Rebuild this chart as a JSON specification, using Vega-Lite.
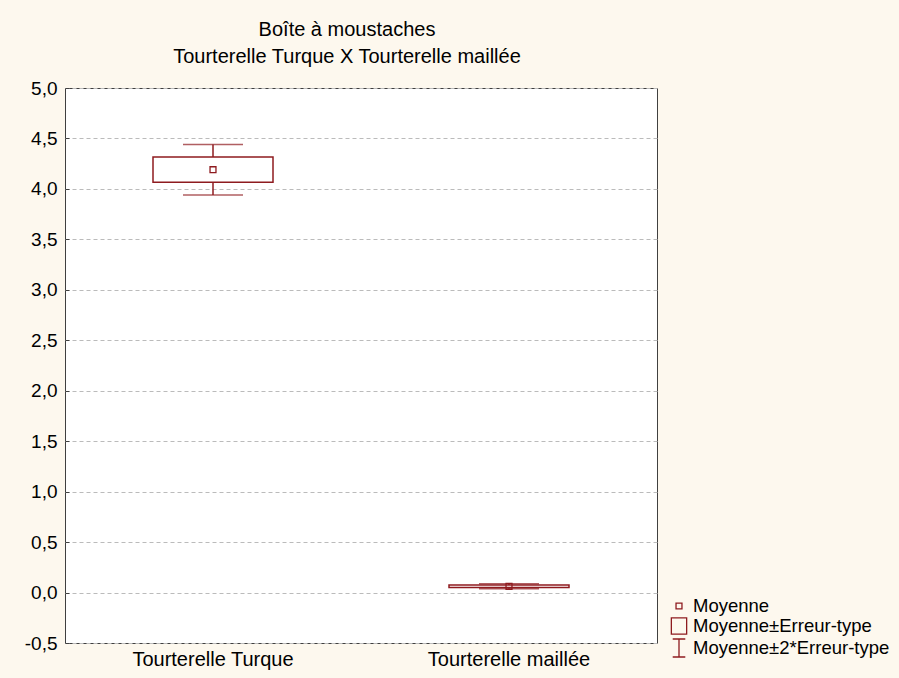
{
  "$schema": "https://vega.github.io/schema/vega-lite/v6.json",
  "width": 592,
  "height": 555,
  "autosize": {"type": "none"},
  "padding": {"left": 65, "top": 88, "right": 242, "bottom": 35},
  "background": "#FDF8EE",
  "title": {
    "text": ["Boîte à moustaches", "Tourterelle Turque X Tourterelle maillée"],
    "font": "Liberation Sans",
    "fontSize": 20,
    "fontWeight": "normal",
    "color": "#000000",
    "lineHeight": 27,
    "offset": 12,
    "dx": -14
  },
  "config": {
    "view": {"stroke": "#404040", "strokeWidth": 1, "fill": "#FFFFFF"},
    "axis": {"labelFont": "Liberation Sans", "labelFontSize": 19, "labelColor": "#000000", "domain": false, "ticks": false},
    "legend": {"labelFont": "Liberation Sans", "labelFontSize": 18.5, "labelColor": "#000000"}
  },
  "data": {
    "values": [
      {"cat": "Tourterelle Turque", "mean": 4.19, "lo": 4.065, "hi": 4.315, "lo2": 3.94, "hi2": 4.44, "serie": "Moyenne"},
      {"cat": "Tourterelle maillée", "mean": 0.062, "lo": 0.05, "hi": 0.074, "lo2": 0.037, "hi2": 0.087, "serie": "Moyenne"}
    ]
  },
  "encoding": {
    "x": {
      "field": "cat", "type": "nominal", "sort": null,
      "scale": {"paddingInner": 0, "paddingOuter": 0},
      "axis": {"title": null, "labelAngle": 0, "labelPadding": 6, "labelFontSize": 20, "grid": false}
    }
  },
  "layer": [
    {
      "mark": {"type": "rule", "color": "#8E1B1F", "strokeWidth": 1.5},
      "encoding": {
        "y": {
          "field": "hi", "type": "quantitative",
          "scale": {"domain": [-0.5, 5.0], "nice": false, "zero": false},
          "axis": {
            "title": null, "values": [-0.5, 0, 0.5, 1, 1.5, 2, 2.5, 3, 3.5, 4, 4.5, 5],
            "labelExpr": "(datum.value < 0 ? '-' : '') + replace(format(abs(datum.value), '.1f'), '.', ',')",
            "ticks": true, "tickSize": -4, "tickColor": "#404040", "tickWidth": 1,
            "labelPadding": 12,
            "grid": true, "gridColor": "#BBBBBB", "gridDash": [4, 3], "gridWidth": 1
          }
        },
        "y2": {"field": "hi2"}
      }
    },
    {
      "mark": {"type": "rule", "color": "#8E1B1F", "strokeWidth": 1.5},
      "encoding": {"y": {"field": "lo2", "type": "quantitative"}, "y2": {"field": "lo"}}
    },
    {
      "mark": {"type": "tick", "orient": "horizontal", "color": "#8E1B1F", "size": 60, "thickness": 1.5},
      "encoding": {"y": {"field": "hi2", "type": "quantitative"}}
    },
    {
      "mark": {"type": "tick", "orient": "horizontal", "color": "#8E1B1F", "size": 60, "thickness": 1.5},
      "encoding": {"y": {"field": "lo2", "type": "quantitative"}}
    },
    {
      "mark": {"type": "bar", "fill": "#FFFFFF", "fillOpacity": 0, "stroke": "#8E1B1F", "strokeWidth": 1.5, "size": 120},
      "encoding": {"y": {"field": "lo", "type": "quantitative"}, "y2": {"field": "hi"}}
    },
    {
      "mark": {"type": "point", "filled": false, "color": "#8E1B1F", "strokeWidth": 1.3, "size": 324, "opacity": 1},
      "encoding": {
        "y": {"field": "mean", "type": "quantitative"},
        "shape": {
          "field": "serie", "type": "nominal",
          "scale": {
            "domain": ["Moyenne", "Moyenne±Erreur-type", "Moyenne±2*Erreur-type"],
            "range": [
              "M-0.33,-0.33L0.33,-0.33L0.33,0.33L-0.33,0.33Z",
              "M-0.85,-0.9L0.85,-0.9L0.85,0.9L-0.85,0.9Z",
              "M-0.7,-1L0.7,-1M0,-1L0,1M-0.7,1L0.7,1"
            ]
          },
          "legend": {
            "title": null,
            "orient": "none",
            "legendX": 604,
            "legendY": 508,
            "rowPadding": -1,
            "labelOffset": 4,
            "labelLimit": 0,
            "symbolSize": 324,
            "symbolStrokeColor": "#8E1B1F",
            "symbolStrokeWidth": 1.3,
            "symbolFillColor": "transparent",
            "symbolOpacity": 1
          }
        }
      }
    }
  ]
}
